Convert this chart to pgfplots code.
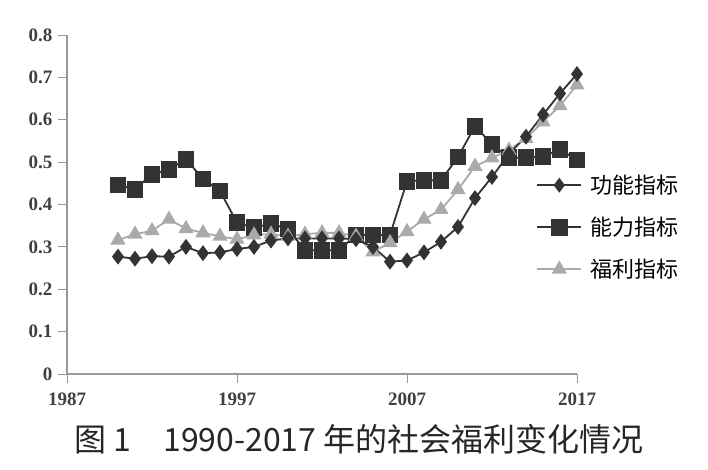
\documentclass[border=0pt]{standalone}
\usepackage{fontspec}
\setmainfont{Liberation Serif}
\newfontfamily\cjk{Noto Sans CJK SC}
\usepackage{pgfplots}
\pgfplotsset{compat=1.18}
\pgfplotstableread{
year gn nl fl
1990 0.277 0.446 0.316
1991 0.272 0.436 0.330
1992 0.278 0.471 0.338
1993 0.277 0.483 0.365
1994 0.300 0.507 0.343
1995 0.285 0.460 0.333
1996 0.287 0.432 0.325
1997 0.295 0.357 0.318
1998 0.300 0.345 0.328
1999 0.315 0.355 0.330
2000 0.320 0.342 0.325
2001 0.320 0.292 0.330
2002 0.320 0.292 0.333
2003 0.320 0.292 0.333
2004 0.318 0.328 0.325
2005 0.300 0.328 0.288
2006 0.265 0.328 0.310
2007 0.268 0.455 0.336
2008 0.287 0.457 0.365
2009 0.312 0.457 0.388
2010 0.347 0.512 0.435
2011 0.415 0.585 0.490
2012 0.465 0.542 0.510
2013 0.520 0.510 0.528
2014 0.560 0.511 0.556
2015 0.612 0.513 0.595
2016 0.662 0.530 0.633
2017 0.708 0.505 0.682
}\datatable
\definecolor{dk}{HTML}{333333}
\definecolor{lt}{HTML}{AAAAAA}
\definecolor{ax}{HTML}{999999}
\begin{document}
\begin{tikzpicture}[x=1pt,y=1pt]
\useasboundingbox (0,0) rectangle (708,469);
\begin{axis}[
  at={(67pt,95pt)}, anchor=south west,
  scale only axis, width=510pt, height=339pt,
  xmin=1987, xmax=2017, ymin=0, ymax=0.8,
  axis x line*=bottom, axis y line*=left,
  axis line style={ax, line width=1.5pt},
  xtick={1987,1997,2007,2017}, xticklabels={1987,1997,2007,2017},
  ytick={0,0.1,0.2,0.3,0.4,0.5,0.6,0.7,0.8},
  yticklabels={0,0.1,0.2,0.3,0.4,0.5,0.6,0.7,0.8},
  tick align=outside, major tick length=9pt,
  tick style={ax, line width=1pt},
  tick label style={font=\bfseries\fontsize{19}{19}\selectfont, text=black!75},
  x tick label style={yshift=-6pt},
  y tick label style={xshift=-2pt},
  clip=false,
  legend cell align=left,
  legend style={draw=none, fill=none, at={(axis description cs:0.92,0.593)}, anchor=north west,
    font=\cjk\fontsize{22}{22}\selectfont, row sep=18pt, inner sep=0pt,
    nodes={inner xsep=8pt}},
  legend image code/.code={\draw[mark repeat=2,mark phase=2,#1] plot coordinates {(0pt,0pt)(22pt,0pt)(44pt,0pt)};},
]
\addplot[forget plot, dk, line width=1.8pt, mark=square*, mark size=7.5pt, mark options={fill=dk, draw=dk}] table[x=year,y=nl] {\datatable};
\addplot[forget plot, lt, line width=1.8pt, mark=triangle*, mark size=7pt, mark options={fill=lt, draw=lt}] table[x=year,y=fl] {\datatable};
\addplot[forget plot, dk, line width=1.8pt, mark=diamond*, mark size=6.5pt, mark options={fill=dk, draw=dk}] table[x=year,y=gn] {\datatable};
\addlegendimage{dk, line width=1.8pt, mark=diamond*, mark size=6pt, mark options={fill=dk, draw=dk}}
\addlegendentry{功能指标}
\addlegendimage{dk, line width=1.8pt, mark=square*, mark size=7.5pt, mark options={fill=dk, draw=dk}}
\addlegendentry{能力指标}
\addlegendimage{lt, line width=1.8pt, mark=triangle*, mark size=7pt, mark options={fill=lt, draw=lt}}
\addlegendentry{福利指标}
\end{axis}
\node[font=\cjk\fontsize{32}{32}\selectfont, text=black!85] at (359,30) {图 1\quad 1990-2017 年的社会福利变化情况};
\end{tikzpicture}
\end{document}
